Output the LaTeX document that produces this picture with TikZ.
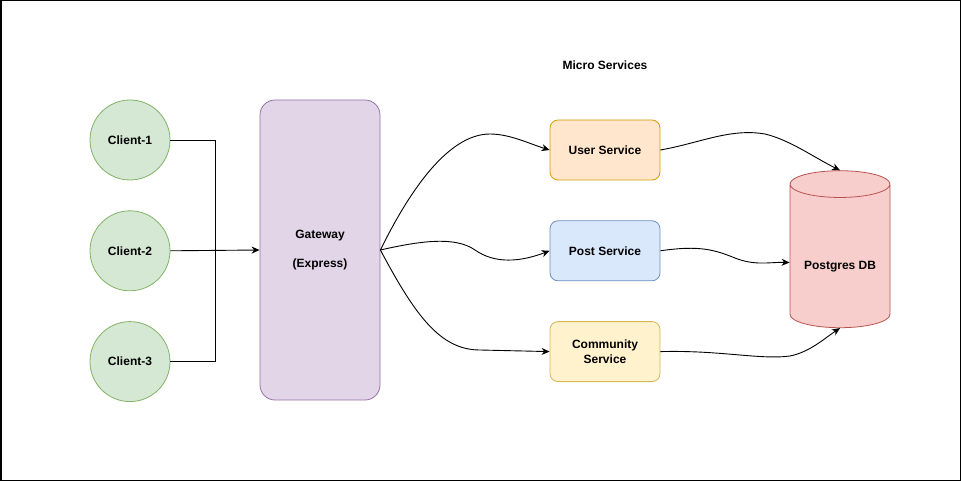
\documentclass[tikz,border=0pt]{standalone}
\usepackage{fontspec}
\setmainfont{Liberation Sans}
\usetikzlibrary{shapes.geometric, arrows.meta, positioning, calc}
\definecolor{cliFill}{HTML}{D5E8D4}
\definecolor{cliDraw}{HTML}{82B366}
\definecolor{gwFill}{HTML}{E1D5E7}
\definecolor{gwDraw}{HTML}{9673A6}
\definecolor{usrFill}{HTML}{FFE6CC}
\definecolor{usrDraw}{HTML}{D79B00}
\definecolor{pstFill}{HTML}{DAE8FC}
\definecolor{pstDraw}{HTML}{6C8EBF}
\definecolor{comFill}{HTML}{FFF2CC}
\definecolor{comDraw}{HTML}{D6B656}
\definecolor{dbFill}{HTML}{F8CECC}
\definecolor{dbDraw}{HTML}{B85450}

\begin{document}
\begin{tikzpicture}[x=1pt, y=-1pt,
  every node/.style={font=\fontsize{12}{14.4}\selectfont\bfseries},
  client/.style={circle, draw=cliDraw, fill=cliFill, line width=0.8pt,
    minimum size=80pt, inner sep=0pt},
  service/.style={rectangle, rounded corners=8pt, line width=0.8pt,
    minimum width=110pt, minimum height=60pt, align=center},
  link/.style={line width=0.9pt, -{Stealth[length=8pt, width=7pt, inset=2.5pt]}}]
  \useasboundingbox (0,0) rectangle (961,481);
  \draw[line width=1.5pt] (0.75,0.75) rectangle (960.25,480.25);

  \node[client] (c1) at (130,140) {Client-1};
  \node[client, below=30pt of c1] (c2) {Client-2};
  \node[client, below=30pt of c2] (c3) {Client-3};

  \node[rectangle, rounded corners=15pt, draw=gwDraw, fill=gwFill, line width=0.8pt,
    minimum width=120pt, minimum height=300pt, align=center] (gw) at (320,250)
    {Gateway\\[14.4pt](Express)};

  \node (ms) at (605,65) {Micro Services};
  \node[service, draw=usrDraw, fill=usrFill] (us) at (605,150) {User Service};
  \node[service, draw=pstDraw, fill=pstFill, below=40pt of us] (ps) {Post Service};
  \node[service, draw=comDraw, fill=comFill, below=40pt of ps] (cs) {Community\\Service};

  \node[cylinder, shape border rotate=90, aspect=0.34, draw=dbDraw, fill=dbFill,
    line width=0.8pt, minimum height=157pt, minimum width=100pt,
    text height=24pt, text depth=2.6pt] (db) at (840,258.5) {Postgres DB};

  \coordinate (join) at (215,250);
  \draw[line width=0.9pt] (c1.east) -| (join);
  \draw[line width=0.9pt] (c3.east) -| (join);
  \draw[link] (c2.east) -- (gw.west);

  \draw[link] (gw.east) .. controls (405,200) and (445,134) .. (490,134)
    .. controls (510,134) and (530,144) .. (us.west);
  \draw[link] (gw.east) .. controls (420,241) and (455,236) .. (475,250)
    .. controls (495,264) and (520,262) .. (ps.west);
  \draw[link] (gw.east) .. controls (415,315) and (440,350) .. (480,350) -- (cs.west);

  \draw[link] (us.east) .. controls (700,143) and (730,128) .. (765,134)
    .. controls (790,140) and (815,158) .. (db.north);
  \draw[link] (ps.east) .. controls (700,245) and (715,250) .. (735,258)
    .. controls (755,266) and (770,262) .. ($(db.west)+(0,4)$);
  \draw[link] (cs.east) .. controls (720,350) and (760,360) .. (790,356)
    .. controls (810,352) and (825,338) .. (db.south);
\end{tikzpicture}
\end{document}
